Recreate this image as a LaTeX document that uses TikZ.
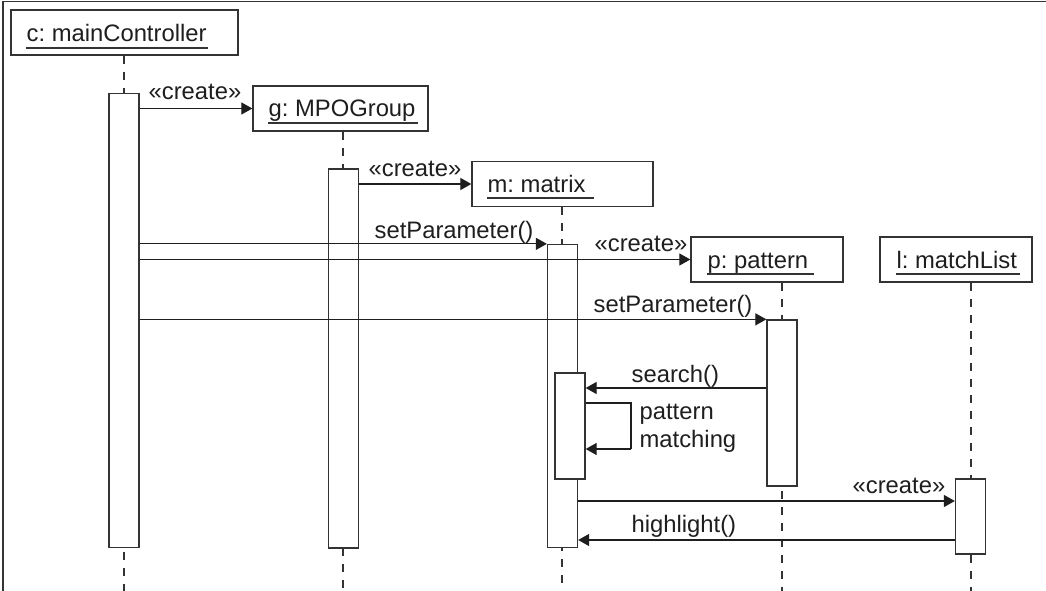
\documentclass[tikz,border=0pt]{standalone}
\usepackage{fontspec}
\setmainfont{Liberation Sans}
\usetikzlibrary{arrows.meta,calc}
\definecolor{ln}{HTML}{333333}
\definecolor{tx}{HTML}{1E1E1E}
\frenchspacing
\begin{document}
\begin{tikzpicture}[x=1pt,y=-1pt,
  line width=1.3pt,
  obj/.style={draw=ln,fill=white,rectangle,inner sep=0pt,line width=1.3pt},
  act/.style={draw=ln,fill=white,rectangle,inner sep=0pt,minimum width=30pt,line width=1.3pt},
  lbl/.style={inner sep=0pt,anchor=base west,text=tx,font=\fontsize{23.8}{28}\selectfont\frenchspacing},
  ul/.style={draw=ln,line width=1.2pt},
  life/.style={draw=ln,line width=1.2pt,dash pattern=on 8pt off 8pt},
  msg/.style={draw=tx,line width=1.2pt,-{Triangle[length=11pt,width=12pt]}},
  lne/.style={draw=tx,line width=1.2pt}]
\useasboundingbox (0,0) rectangle (1046,591);
% frame
\draw[ln,line width=1.5pt] (1046,1.5) -- (3,1.5) -- (3,591);

% object boxes
\node[obj,minimum width=227pt,minimum height=45pt] (c) at (124.5,32.5) {};
\node[obj,minimum width=175pt,minimum height=45pt] (g) at (340.5,108.5) {};
\node[obj,minimum width=181pt,minimum height=45pt] (m) at (562.5,184) {};
\node[obj,minimum width=152pt,minimum height=45pt] (p) at (767,259.5) {};
\node[obj,minimum width=152pt,minimum height=45pt] (l) at (956,259.5) {};

% lifelines
\coordinate (cEnd) at (124,591);
\coordinate (gEnd) at (343,591);
\coordinate (mEnd) at (562,591);
\coordinate (pEnd) at (782,591);
\coordinate (lEnd) at (971,591);
\draw[life] (c.south -| cEnd) -- (cEnd);
\draw[life] (g.south -| gEnd) -- (gEnd);
\draw[life] (m.south -| mEnd) -- (mEnd);
\draw[life] (p.south -| pEnd) -- (pEnd);
\draw[life] (l.south -| lEnd) -- (lEnd);

% object names
\node[lbl] (cT) at (26,42) {c: mainController};
\node[lbl] (gT) at (268,117) {g: MPOGroup};
\node[lbl] (mT) at (487,192) {m: matrix};
\node[lbl] (pT) at (707,268) {p: pattern};
\node[lbl] (lT) at (896,268) {l: matchList};
\draw[ul] ([yshift=-6pt]cT.base west) -- ([yshift=-6pt,xshift=1pt]cT.base east);
\draw[ul] ([yshift=-6pt]gT.base west) -- ([yshift=-6pt,xshift=2pt]gT.base east);
\draw[ul] ([yshift=-6pt]mT.base west) -- ([yshift=-6pt,xshift=8pt]mT.base east);
\draw[ul] ([yshift=-6pt]pT.base west) -- ([yshift=-6pt,xshift=5pt]pT.base east);
\draw[ul] ([yshift=-6pt]lT.base west) -- ([yshift=-6pt,xshift=2pt]lT.base east);

% activations
\node[act,minimum height=454pt] (aC) at (124,320.5) {};
\node[act,minimum height=379pt] (aG) at (343.5,358.5) {};
\node[act,minimum height=303pt] (aM) at (562.5,396) {};
\node[act,minimum height=106pt] (aM2) at (570,426) {};
\node[act,minimum height=166pt] (aP) at (782,403) {};
\node[act,minimum height=75pt] (aL) at (970.5,516.5) {};

% messages
\draw[msg] (aC.east |- g.west) -- (g.west);
\node[lbl] at (148,100) {«create»};

\draw[msg] (aG.east |- m.west) -- (m.west);
\node[lbl] at (368,176) {«create»};

\draw[msg] (aC.east |- aM.north west) -- (aM.north west);
\node[lbl] at (374,238) {setParameter()};

\draw[msg] (aC.east |- p.west) -- (p.west);
\node[lbl] at (594,251) {«create»};

\draw[msg] (aC.east |- aP.north west) -- (aP.north west);
\node[lbl] at (593,312) {setParameter()};

\coordinate (sY) at (0,388);
\draw[msg] (aP.west |- sY) -- (aM2.east |- sY);
\node[lbl] at (631,382) {search()};

\coordinate (pmA) at (0,403);
\coordinate (pmB) at (631,449);
\draw[lne] (aM2.east |- pmA) -- (pmB |- pmA) -- (pmB);
\draw[msg] (pmB) -- (aM2.east |- pmB);
\node[lbl] at (639,419) {pattern};
\node[lbl] at (639,447) {matching};

\coordinate (cY) at (0,501);
\draw[msg] (aM.east |- cY) -- (aL.west |- cY);
\node[lbl] at (852,493) {«create»};

\coordinate (hY) at (0,540);
\draw[msg] (aL.west |- hY) -- (aM.east |- hY);
\node[lbl] at (631,532) {highlight()};
\end{tikzpicture}
\end{document}
